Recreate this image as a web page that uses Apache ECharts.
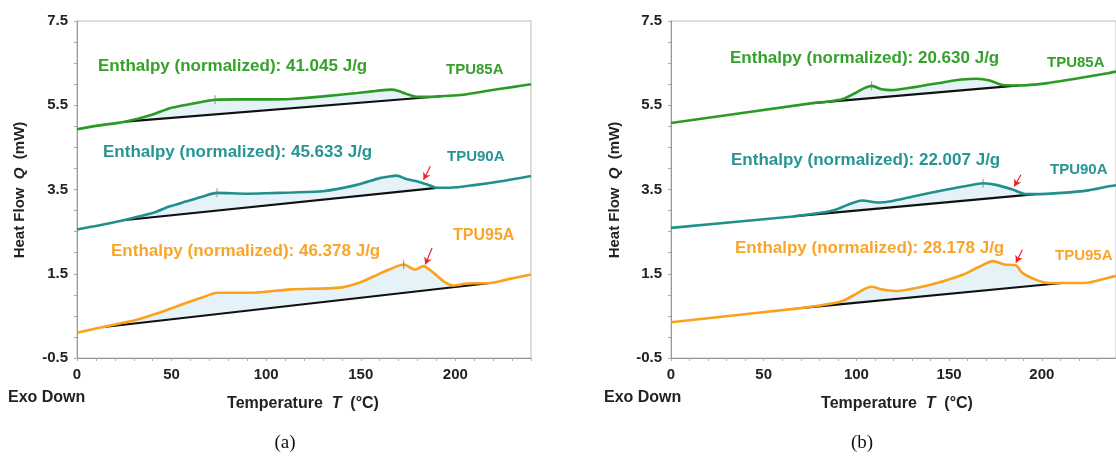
<!DOCTYPE html>
<html><head><meta charset="utf-8">
<script src="https://cdn.jsdelivr.net/npm/echarts@6/dist/echarts.min.js"></script>
<style>html,body{margin:0;padding:0;background:#fff}#c{width:1116px;height:459px}</style>
</head><body><div id="c"></div>
<script>
// ---------- tick labels ----------
const xTicks = [0, 50, 100, 150, 200];
const xMinorTicks = [0,10,20,30,40,50,60,70,80,90,100,110,120,130,140,150,160,170,180,190,200,210,220,230,240];
const yTicks = [-0.5, 1.5, 3.5, 5.5, 7.5];
const yMinorTicks = [-0.5,0,0.5,1,1.5,2,2.5,3,3.5,4,4.5,5,5.5,6,6.5,7,7.5];

// ---------- panel (a) ----------
const aT85 = [0, 10, 25.4, 40, 49, 60, 67, 73, 85, 100, 113, 130, 148, 156, 162, 166, 170, 174, 180, 187, 194, 204, 218, 230, 240];
const aQ85 = [4.93, 5.01, 5.11, 5.28, 5.43, 5.53, 5.59, 5.63, 5.64, 5.64, 5.65, 5.71, 5.79, 5.83, 5.86, 5.87, 5.84, 5.77, 5.70, 5.70, 5.72, 5.75, 5.85, 5.93, 6.0];
const aBase85 = [[25.4, 5.11], [193.8, 5.72]];

const aT90 = [0, 12, 24.5, 40, 49, 58, 66, 74, 90, 100, 113, 130, 148, 160, 165, 169, 174, 179, 183, 187, 190, 197, 211, 225, 240];
const aQ90 = [2.55, 2.65, 2.77, 2.94, 3.10, 3.22, 3.33, 3.42, 3.40, 3.41, 3.43, 3.46, 3.61, 3.77, 3.81, 3.83, 3.75, 3.70, 3.65, 3.59, 3.54, 3.54, 3.61, 3.70, 3.82];
const aBase90 = [[24.5, 2.77], [190.3, 3.54]];

const aT95 = [0, 13, 31.6, 45.7, 58, 67, 74, 93, 113, 139, 150, 157, 165, 172.7, 178.8, 183, 188.5, 193.8, 199, 206, 218.5, 227, 240];
const aQ95 = [0.10, 0.23, 0.41, 0.61, 0.81, 0.95, 1.05, 1.05, 1.13, 1.17, 1.30, 1.44, 1.60, 1.72, 1.60, 1.68, 1.52, 1.32, 1.22, 1.27, 1.28, 1.36, 1.48];
const aBase95 = [[13, 0.23], [218.5, 1.28]];

const aMarks = [[73, 5.63], [74, 3.42], [172.7, 1.72]];
const aArrows = [[[186.8, 4.05], [183.2, 3.73]], [[187.7, 2.11], [184.1, 1.72]]];
const aEnthalpy = ['41.045', '45.633', '46.378'];

// ---------- panel (b) ----------
const bT85 = [0, 76.4, 85, 92.3, 99.4, 104, 108.2, 113.5, 118.8, 131.2, 148.9, 157, 164.8, 171.9, 178.9, 187.8, 202, 219.6, 235.5, 240];
const bQ85 = [5.08, 5.55, 5.59, 5.64, 5.79, 5.90, 5.96, 5.88, 5.86, 5.93, 6.06, 6.11, 6.13, 6.09, 5.98, 5.97, 6.02, 6.14, 6.26, 6.30];
const bBase85 = [[76.4, 5.55], [187.8, 5.97]];

const bT90 = [0, 65.8, 80, 88.8, 96, 103, 111.8, 118.8, 131.2, 148.9, 160, 168.3, 175.4, 184.2, 191.4, 196.7, 210.8, 225, 235.5, 240];
const bQ90 = [2.59, 2.86, 2.94, 3.02, 3.15, 3.24, 3.19, 3.22, 3.34, 3.50, 3.59, 3.65, 3.61, 3.50, 3.39, 3.39, 3.42, 3.48, 3.57, 3.60];
const bBase90 = [[65.8, 2.86], [196.7, 3.39]];

const bT95 = [0, 71.1, 85, 92.3, 99.4, 104, 108.2, 113.5, 120.6, 140, 157.7, 166, 173.6, 179.8, 186, 189.5, 196.7, 203.7, 210.8, 223.2, 235.5, 240];
const bQ95 = [0.35, 0.69, 0.78, 0.85, 1.01, 1.13, 1.19, 1.13, 1.09, 1.24, 1.48, 1.66, 1.80, 1.72, 1.70, 1.52, 1.36, 1.28, 1.28, 1.28, 1.40, 1.45];
const bBase95 = [[71.1, 0.69], [210.8, 1.28]];

const bMarks = [[108.2, 5.96], [168.3, 3.65]];
const bArrows = [[[188.7, 3.85], [185.1, 3.57]], [[189.5, 2.07], [186.0, 1.76]]];
const bEnthalpy = ['20.630', '22.007', '28.178'];

const sampleNames = ['TPU85A', 'TPU90A', 'TPU95A'];
const colors = ['#2a9a22', '#20908e', '#fba11c'];
const textColors = ['#35a02b', '#269593', '#f9a52a'];
const FONT = 'Liberation Sans, Arial, Helvetica, sans-serif';

function zip(t, q) { return t.map((v, i) => [v, q[i]]); }
function fillPoly(t, q, base) {
  const pts = [base[0]];
  t.forEach((v, i) => { if (v > base[0][0] && v < base[1][0]) pts.push([v, q[i]]); });
  pts.push(base[1]);
  return pts;
}

function panelSeries(gi, curves, bases, marks, arrows) {
  const s = [];
  curves.forEach((c, k) => {
    const poly = fillPoly(c[0], c[1], bases[k]);
    s.push({
      type: 'custom', xAxisIndex: gi, yAxisIndex: gi, z: 1, silent: true,
      data: [poly[0]],
      renderItem: function (params, api) {
        const p = poly.map(d => api.coord(d));
        return { type: 'polygon', shape: { points: p }, style: { fill: '#e5f3f9', stroke: null } };
      }
    });
  });
  curves.forEach((c, k) => {
    s.push({
      type: 'line', xAxisIndex: gi, yAxisIndex: gi, z: 3, data: bases[k],
      showSymbol: false, lineStyle: { color: '#111', width: 2.2 }, silent: true
    });
  });
  curves.forEach((c, k) => {
    s.push({
      type: 'line', xAxisIndex: gi, yAxisIndex: gi, z: 4, data: zip(c[0], c[1]),
      smooth: 0.25, showSymbol: false, lineStyle: { color: colors[k], width: 2.6 }, silent: true
    });
  });
  s.push({
    type: 'scatter', xAxisIndex: gi, yAxisIndex: gi, z: 5, data: marks, silent: true,
    symbol: 'path://M0,0L1,0L1,10L0,10Z', symbolSize: [1, 9], itemStyle: { color: '#777' }
  });
  s.push({
    type: 'line', xAxisIndex: gi, yAxisIndex: gi, z: 6, data: [], silent: true,
    markLine: {
      silent: true, animation: false, symbol: ['none', 'arrow'], symbolSize: [6, 7],
      label: { show: false }, lineStyle: { color: '#f0202a', width: 1.2, type: 'solid' },
      data: arrows.map(a => [{ coord: a[0] }, { coord: a[1] }])
    }
  });
  return s;
}

function xAx(gi) {
  return {
    type: 'value', gridIndex: gi, min: 0, max: 240,
    axisLine: { show: true, onZero: false, lineStyle: { color: '#999', width: 1 } },
    axisTick: { show: true, customValues: xMinorTicks, length: 3, lineStyle: { color: '#aaa' } },
    axisLabel: { customValues: xTicks, color: '#222', fontWeight: 'bold', fontSize: 15, fontFamily: FONT, margin: 9 },
    splitLine: { show: false }
  };
}
function yAx(gi) {
  return {
    type: 'value', gridIndex: gi, min: -0.5, max: 7.5,
    axisLine: { show: true, onZero: false, lineStyle: { color: '#999', width: 1 } },
    axisTick: { show: true, customValues: yMinorTicks, length: 3, lineStyle: { color: '#aaa' } },
    axisLabel: { customValues: yTicks, color: '#222', fontWeight: 'bold', fontSize: 15, fontFamily: FONT, margin: 9,
      formatter: v => v.toFixed(1) },
    splitLine: { show: false }
  };
}

function txt(x, y, text, color, size) {
  return {
    type: 'text', x: x, y: y, silent: true,
    style: { text: text, fill: color, font: 'bold ' + size + 'px ' + FONT, textVerticalAlign: 'middle', textAlign: 'left' }
  };
}

const graphics = [];
const aEnthPos = [[98, 66], [103, 152], [111, 251]];
const bEnthPos = [[730, 58], [731, 160], [735, 248]];
const aNamePos = [[446, 70], [447, 157], [453, 236]];
const bNamePos = [[1047, 63], [1050, 170], [1055, 256]];
for (let k = 0; k < 3; k++) {
  graphics.push(txt(aEnthPos[k][0], aEnthPos[k][1], 'Enthalpy (normalized): ' + aEnthalpy[k] + ' J/g', textColors[k], 17));
  graphics.push(txt(bEnthPos[k][0], bEnthPos[k][1], 'Enthalpy (normalized): ' + bEnthalpy[k] + ' J/g', textColors[k], 17));
  graphics.push(txt(aNamePos[k][0], aNamePos[k][1], sampleNames[k], textColors[k], k === 2 ? 16 : 15));
  graphics.push(txt(bNamePos[k][0], bNamePos[k][1], sampleNames[k], textColors[k], 15));
}
function yName(x) {
  return {
    type: 'text', x: x, y: 190, rotation: Math.PI / 2, silent: true,
    style: {
      text: '{n|Heat Flow  }{i|Q}{n|  (mW)}', textAlign: 'center', textVerticalAlign: 'middle',
      rich: {
        n: { font: 'bold 15px ' + FONT, fill: '#222' },
        i: { font: 'italic bold 15px ' + FONT, fill: '#222' }
      }
    }
  };
}
function xName(x) {
  return {
    type: 'text', x: x, y: 404, silent: true,
    style: {
      text: '{n|Temperature  }{i|T}{n|  (°C)}', textAlign: 'center', textVerticalAlign: 'middle',
      rich: {
        n: { font: 'bold 16px ' + FONT, fill: '#222' },
        i: { font: 'italic bold 16px ' + FONT, fill: '#222' }
      }
    }
  };
}
graphics.push(yName(20), yName(615), xName(303), xName(897));
graphics.push(txt(8, 398, 'Exo Down', '#222', 16));
graphics.push(txt(604, 398, 'Exo Down', '#222', 16));
graphics.push({ type: 'text', x: 285, y: 443, silent: true, style: { text: '(a)', fill: '#111', font: '19px Liberation Serif, Times New Roman, serif', textAlign: 'center', textVerticalAlign: 'middle' } });
graphics.push({ type: 'text', x: 862, y: 443, silent: true, style: { text: '(b)', fill: '#111', font: '19px Liberation Serif, Times New Roman, serif', textAlign: 'center', textVerticalAlign: 'middle' } });

const chart = echarts.init(document.getElementById('c'), null, { renderer: 'canvas' });
chart.setOption({
  animation: false,
  backgroundColor: '#fff',
  grid: [
    { left: 77, top: 21, width: 454, height: 337, show: true, borderColor: '#bbb', borderWidth: 1, backgroundColor: 'transparent' },
    { left: 671, top: 21, width: 452, height: 337, show: true, borderColor: '#bbb', borderWidth: 1, backgroundColor: 'transparent' }
  ],
  xAxis: [xAx(0), xAx(1)],
  yAxis: [yAx(0), yAx(1)],
  series: [].concat(
    panelSeries(0, [[aT85, aQ85], [aT90, aQ90], [aT95, aQ95]], [aBase85, aBase90, aBase95], aMarks, aArrows),
    panelSeries(1, [[bT85, bQ85], [bT90, bQ90], [bT95, bQ95]], [bBase85, bBase90, bBase95], bMarks, bArrows)
  ),
  graphic: graphics
});
</script></body></html>
